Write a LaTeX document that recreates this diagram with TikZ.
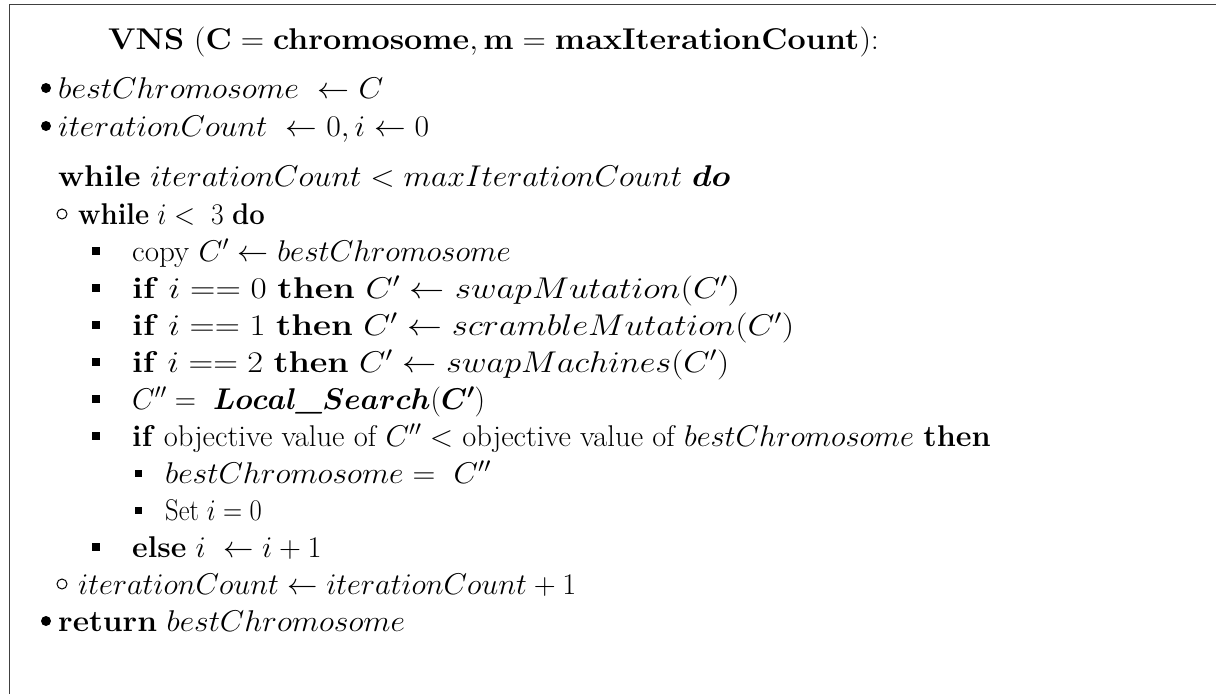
\RequirePackage{fix-cm}
\documentclass[tikz,border=0pt]{standalone}
\usepackage{amsmath}
\usepackage{bm}
\usepackage{graphicx}
\newcommand\fs{\fontsize{30}{36}\selectfont}
% horizontal stretch relative to a 32pt-wide setting
\newcommand\sx[2]{\scalebox{\fpeval{1.0667*#1}}[1]{#2}}
\begin{document}
\begin{tikzpicture}[x=1pt,y=-1pt,
  txt/.style={anchor=base west, inner sep=0pt, font=\fs},
  dotmark/.style={circle, fill=black, inner sep=0pt, minimum size=10pt},
  ringmark/.style={circle, draw=black, line width=1pt, inner sep=0pt, minimum size=10pt},
  sqmark/.style={rectangle, fill=black, inner sep=0pt, minimum size=8pt},
  sqsmall/.style={rectangle, fill=black, inner sep=0pt, minimum size=7pt},
  frame/.style={draw=black!75, line width=1.8pt}]
\useasboundingbox (0,0) rectangle (1216,694);
% frame
\coordinate (ftl) at (9.5,4.5);
\coordinate (ftr) at (1216,4.5);
\coordinate (fbl) at (9.5,694);
\draw[frame] (fbl) -- (ftl) -- (ftr);
% title
\node[txt] (l1) at (108,49) {\sx{1.01}{\textbf{VNS} $(\mathbf{C}=\mathbf{chromosome},\mathbf{m}=\mathbf{maxIterationCount})$:}};
% level 1
\node[dotmark] (b2) at (46,88) {};
\node[txt] (l2) at (58,98) {\sx{1}{$bestChromosome\ \leftarrow C$}};
\node[dotmark] (b3) at (46,126) {};
\node[txt] (l3) at (58,136) {\sx{0.99}{$iterationCount\ \leftarrow 0, i\leftarrow 0$}};
\node[txt] (l4) at (58,186) {\sx{1}{\textbf{while} $iterationCount<maxIterationCount\ \bm{do}$}};
% level 2
\node[ringmark] (b5) at (62,214) {};
\node[txt] (l5) at (78,224) {\sx{0.86}{\textbf{while} $i<\ 3$ \textbf{do}}};
% level 3
\node[sqmark] (b6) at (96,251) {};
\node[txt] (l6) at (132,261) {\sx{0.97}{copy $C'\leftarrow bestChromosome$}};
\node[sqmark] (b7) at (96,288) {};
\node[txt] (l7) at (132,298) {\sx{1.10}{\textbf{if} $i==0$ \textbf{then} $C'\leftarrow swapMutation(C')$}};
\node[sqmark] (b8) at (96,325) {};
\node[txt] (l8) at (132,335) {\sx{1.09}{\textbf{if} $i==1$ \textbf{then} $C'\leftarrow scrambleMutation(C')$}};
\node[sqmark] (b9) at (96,362) {};
\node[txt] (l9) at (132,372) {\sx{1.07}{\textbf{if} $i==2$ \textbf{then} $C'\leftarrow swapMachines(C')$}};
\node[sqmark] (b10) at (96,399) {};
\node[txt] (l10) at (132,409) {\sx{0.92}{$C''=\ \bm{Local}$\textbf{\textit{\_}}$\bm{Search}(\bm{C'})$}};
\node[sqmark] (b11) at (96,436) {};
\node[txt] (l11) at (132,446) {\sx{0.955}{\textbf{if} objective value of $C''<$ objective value of $bestChromosome$ \textbf{then}}};
% level 4
\node[sqsmall] (b12) at (138,473) {};
\node[txt] (l12) at (165,483) {\sx{0.99}{$bestChromosome=\ C''$}};
\node[sqsmall] (b13) at (138,510) {};
\node[txt] (l13) at (165,520) {\sx{0.83}{Set $i=0$}};
% level 3
\node[sqmark] (b14) at (96,547) {};
\node[txt] (l14) at (132,557) {\sx{0.95}{\textbf{else} $i\ \leftarrow i+1$}};
% level 2
\node[ringmark] (b15) at (62,584) {};
\node[txt] (l15) at (78,594) {\sx{0.95}{$iterationCount\leftarrow iterationCount+1$}};
% level 1
\node[dotmark] (b16) at (46,621) {};
\node[txt] (l16) at (58,631) {\sx{0.99}{\textbf{return} $bestChromosome$}};
\end{tikzpicture}
\end{document}
